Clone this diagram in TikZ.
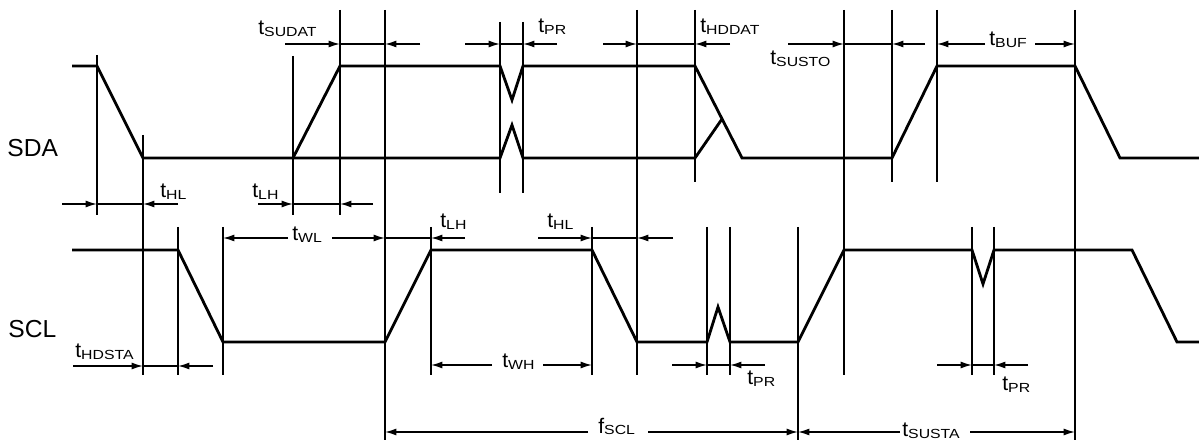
\documentclass[tikz,border=0pt]{standalone}
\usepackage{fontspec}
\setmainfont{Liberation Sans}
\newfontfamily\subfont[FakeStretch=1.2]{Liberation Sans}
\usetikzlibrary{arrows.meta}
\newcommand\tlab[2]{#1\raisebox{-1.1pt}{\subfont\fontsize{7.5}{8}\selectfont #2}}

\begin{document}
\begin{tikzpicture}[x=0.02cm, y=-0.02cm,
    sig/.style = {line width=1.6pt},
    ext/.style = {line width=0.8pt},
    dim/.style = {line width=0.8pt, -{Latex[length=6.5pt,width=4pt]}},
    lab/.style = {anchor=base west, inner sep=0pt, font=\fontsize{12}{14}\selectfont},
    signame/.style = {anchor=base west, inner sep=0pt, font=\fontsize{14}{16}\selectfont}]
    \useasboundingbox (0,0) rectangle (1199,445);

    % signal names
    \node[signame] (sda) at (7,157) {SDA};
    \node[signame] (scl) at (8,338) {SCL};

    % SDA
    \draw[sig] (72,66) -- (97,66) -- (143,158) -- (293,158) -- (340,66) -- (500,66)
        -- (512,100) -- (523,66) -- (695,66) -- (742,158) -- (892,158) -- (937,66)
        -- (1075,66) -- (1120,158) -- (1199,158);
    \draw[sig] (293,158) -- (500,158) -- (512,125) -- (523,158) -- (695,158) -- (722,119);

    % SCL
    \draw[sig] (72,250) -- (178,250) -- (223,342) -- (385,342) -- (431,250) -- (592,250)
        -- (637,342) -- (707,342) -- (718,307) -- (730,342) -- (798,342) -- (844,250)
        -- (972,250) -- (983,284) -- (994,250) -- (1132,250) -- (1177,342) -- (1199,342);

    % extension lines
    \foreach \x/\a/\b in {97/55/215, 143/135/375, 293/56/215, 340/10/215, 385/10/440,
                          500/22/193, 523/22/193, 637/10/375, 695/10/182, 844/10/375,
                          892/10/182, 937/10/182, 1075/10/440, 178/227/375, 223/227/375,
                          431/227/375, 592/227/375, 707/227/375, 730/227/375, 798/227/440,
                          972/227/375, 994/227/375}
        \draw[ext] (\x,\a) -- (\x,\b);

    % top row
    \draw[dim] (285,44) -- (340,44); \draw[ext] (340,44) -- (385,44); \draw[dim] (420,44) -- (385,44);
    \draw[dim] (465,44) -- (500,44); \draw[ext] (500,44) -- (523,44); \draw[dim] (557,44) -- (523,44);
    \draw[dim] (603,44) -- (637,44); \draw[ext] (637,44) -- (695,44); \draw[dim] (730,44) -- (695,44);
    \draw[dim] (788,44) -- (844,44); \draw[ext] (844,44) -- (892,44); \draw[dim] (925,44) -- (892,44);
    \draw[dim] (985,44) -- (937,44); \draw[dim] (1035,44) -- (1075,44);

    \node[lab] (tsudat) at (258,35) {\tlab{t}{SUDAT}};
    \node[lab] (tpra) at (538,33) {\tlab{t}{PR}};
    \node[lab] (thddat) at (700,33) {\tlab{t}{HDDAT}};
    \node[lab] (tsusto) at (770,65) {\tlab{t}{SUSTO}};
    \node[lab] (tbuf) at (989,46) {\tlab{t}{BUF}};

    % SDA edges
    \draw[dim] (62,204) -- (97,204); \draw[ext] (97,204) -- (143,204); \draw[dim] (178,204) -- (143,204);
    \draw[dim] (258,204) -- (293,204); \draw[ext] (293,204) -- (340,204); \draw[dim] (373,204) -- (340,204);

    \node[lab] (thla) at (160,198) {\tlab{t}{HL}};
    \node[lab] (tlha) at (252,198) {\tlab{t}{LH}};

    % SCL upper row
    \draw[dim] (288,238) -- (223,238); \draw[dim] (332,238) -- (385,238);
    \draw[ext] (385,238) -- (431,238); \draw[dim] (465,238) -- (431,238);
    \draw[dim] (538,238) -- (592,238); \draw[ext] (592,238) -- (637,238); \draw[dim] (673,238) -- (637,238);

    \node[lab] (twl) at (292,241) {\tlab{t}{WL}};
    \node[lab] (tlhb) at (440,228) {\tlab{t}{LH}};
    \node[lab] (thlb) at (547,228) {\tlab{t}{HL}};

    % SCL lower row
    \draw[dim] (73,366) -- (143,366); \draw[ext] (143,366) -- (178,366); \draw[dim] (213,366) -- (178,366);
    \draw[dim] (492,365) -- (431,365); \draw[dim] (543,365) -- (592,365);
    \draw[dim] (672,365) -- (707,365); \draw[ext] (707,365) -- (730,365); \draw[dim] (765,365) -- (730,365);
    \draw[dim] (937,365) -- (972,365); \draw[ext] (972,365) -- (994,365); \draw[dim] (1028,365) -- (994,365);

    \node[lab] (thdsta) at (75,358) {\tlab{t}{HDSTA}};
    \node[lab] (twh) at (502,368) {\tlab{t}{WH}};
    \node[lab] (tprb) at (747,385) {\tlab{t}{PR}};
    \node[lab] (tprc) at (1002,391) {\tlab{t}{PR}};

    % bottom row
    \draw[dim] (588,432) -- (385,432); \draw[dim] (648,432) -- (798,432);
    \draw[dim] (900,432) -- (798,432); \draw[dim] (970,432) -- (1075,432);

    \node[lab] (fscl) at (598,433) {\tlab{f}{SCL}};
    \node[lab] (tsusta) at (902,437) {\tlab{t}{SUSTA}};
\end{tikzpicture}
\end{document}
